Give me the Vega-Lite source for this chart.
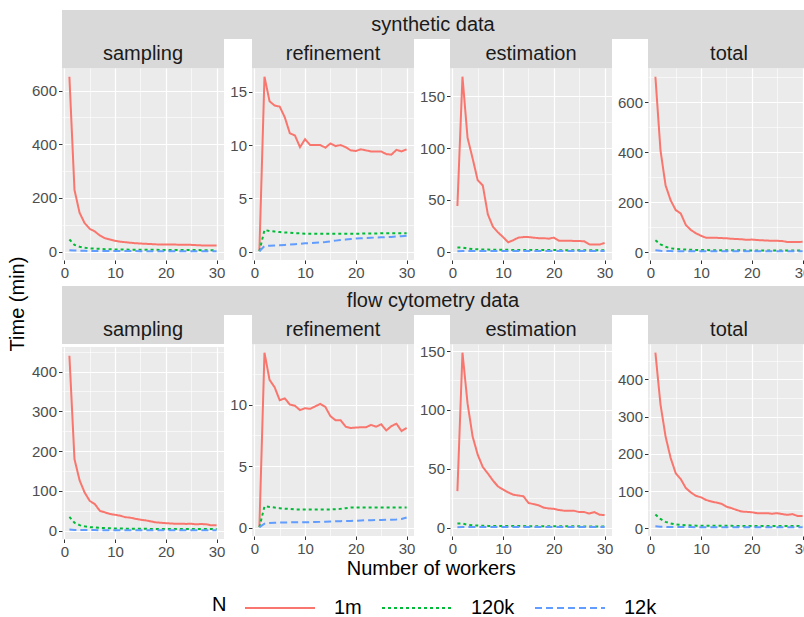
{
"$schema":"https://vega.github.io/schema/vega-lite/v6.json",
"padding":{"left":8,"top":10,"right":0,"bottom":0},
"title":{"text":"Time (min)","orient":"left","anchor":"middle","fontSize":20,"fontWeight":"normal","color":"#000000","offset":3,"dx":10},
"datasets":{
"ss":[
{"n":"1m","w":1,"t":652},{"n":"1m","w":2,"t":230},{"n":"1m","w":3,"t":145},{"n":"1m","w":4,"t":106},{"n":"1m","w":5,"t":85},{"n":"1m","w":6,"t":75},{"n":"1m","w":7,"t":60},{"n":"1m","w":8,"t":50},{"n":"1m","w":9,"t":45},{"n":"1m","w":10,"t":40},{"n":"1m","w":11,"t":37},{"n":"1m","w":12,"t":35},{"n":"1m","w":13,"t":33},{"n":"1m","w":14,"t":31},{"n":"1m","w":15,"t":30},{"n":"1m","w":16,"t":29},{"n":"1m","w":17,"t":28},{"n":"1m","w":18,"t":27},{"n":"1m","w":19,"t":26},{"n":"1m","w":20,"t":26},{"n":"1m","w":21,"t":26},{"n":"1m","w":22,"t":26},{"n":"1m","w":23,"t":25},{"n":"1m","w":24,"t":25},{"n":"1m","w":25,"t":25},{"n":"1m","w":26,"t":24},{"n":"1m","w":27,"t":23},{"n":"1m","w":28,"t":23},{"n":"1m","w":29,"t":23},{"n":"1m","w":30,"t":23},
{"n":"120k","w":1,"t":45},{"n":"120k","w":2,"t":25},{"n":"120k","w":3,"t":18},{"n":"120k","w":4,"t":14},{"n":"120k","w":5,"t":12},{"n":"120k","w":6,"t":11},{"n":"120k","w":7,"t":10},{"n":"120k","w":8,"t":9},{"n":"120k","w":9,"t":9},{"n":"120k","w":10,"t":8},{"n":"120k","w":11,"t":8},{"n":"120k","w":12,"t":8},{"n":"120k","w":13,"t":7},{"n":"120k","w":14,"t":7},{"n":"120k","w":15,"t":7},{"n":"120k","w":16,"t":7},{"n":"120k","w":17,"t":7},{"n":"120k","w":18,"t":7},{"n":"120k","w":19,"t":6},{"n":"120k","w":20,"t":6},{"n":"120k","w":21,"t":6},{"n":"120k","w":22,"t":6},{"n":"120k","w":23,"t":6},{"n":"120k","w":24,"t":6},{"n":"120k","w":25,"t":6},{"n":"120k","w":26,"t":6},{"n":"120k","w":27,"t":5},{"n":"120k","w":28,"t":5},{"n":"120k","w":29,"t":5},{"n":"120k","w":30,"t":5},
{"n":"12k","w":1,"t":5},{"n":"12k","w":2,"t":4},{"n":"12k","w":3,"t":3},{"n":"12k","w":4,"t":3},{"n":"12k","w":5,"t":2},{"n":"12k","w":6,"t":2},{"n":"12k","w":7,"t":2},{"n":"12k","w":8,"t":2},{"n":"12k","w":9,"t":2},{"n":"12k","w":10,"t":2},{"n":"12k","w":11,"t":2},{"n":"12k","w":12,"t":2},{"n":"12k","w":13,"t":2},{"n":"12k","w":14,"t":2},{"n":"12k","w":15,"t":1},{"n":"12k","w":16,"t":1},{"n":"12k","w":17,"t":1},{"n":"12k","w":18,"t":1},{"n":"12k","w":19,"t":1},{"n":"12k","w":20,"t":1},{"n":"12k","w":21,"t":1},{"n":"12k","w":22,"t":1},{"n":"12k","w":23,"t":1},{"n":"12k","w":24,"t":1},{"n":"12k","w":25,"t":1},{"n":"12k","w":26,"t":1},{"n":"12k","w":27,"t":1},{"n":"12k","w":28,"t":1},{"n":"12k","w":29,"t":1},{"n":"12k","w":30,"t":1}],
"sr":[
{"n":"1m","w":1,"t":0.1},{"n":"1m","w":2,"t":16.4},{"n":"1m","w":3,"t":14.1},{"n":"1m","w":4,"t":13.7},{"n":"1m","w":5,"t":13.6},{"n":"1m","w":6,"t":12.6},{"n":"1m","w":7,"t":11.1},{"n":"1m","w":8,"t":10.9},{"n":"1m","w":9,"t":9.8},{"n":"1m","w":10,"t":10.55},{"n":"1m","w":11,"t":10.0},{"n":"1m","w":12,"t":10.0},{"n":"1m","w":13,"t":10.0},{"n":"1m","w":14,"t":9.75},{"n":"1m","w":15,"t":10.15},{"n":"1m","w":16,"t":9.9},{"n":"1m","w":17,"t":10.0},{"n":"1m","w":18,"t":9.8},{"n":"1m","w":19,"t":9.5},{"n":"1m","w":20,"t":9.45},{"n":"1m","w":21,"t":9.6},{"n":"1m","w":22,"t":9.5},{"n":"1m","w":23,"t":9.4},{"n":"1m","w":24,"t":9.4},{"n":"1m","w":25,"t":9.4},{"n":"1m","w":26,"t":9.15},{"n":"1m","w":27,"t":9.1},{"n":"1m","w":28,"t":9.55},{"n":"1m","w":29,"t":9.4},{"n":"1m","w":30,"t":9.6},
{"n":"120k","w":1,"t":0.05},{"n":"120k","w":2,"t":2.05},{"n":"120k","w":3,"t":1.95},{"n":"120k","w":4,"t":1.9},{"n":"120k","w":5,"t":1.85},{"n":"120k","w":6,"t":1.8},{"n":"120k","w":7,"t":1.8},{"n":"120k","w":8,"t":1.75},{"n":"120k","w":9,"t":1.75},{"n":"120k","w":10,"t":1.7},{"n":"120k","w":11,"t":1.7},{"n":"120k","w":12,"t":1.7},{"n":"120k","w":13,"t":1.7},{"n":"120k","w":14,"t":1.7},{"n":"120k","w":15,"t":1.7},{"n":"120k","w":16,"t":1.7},{"n":"120k","w":17,"t":1.7},{"n":"120k","w":18,"t":1.7},{"n":"120k","w":19,"t":1.7},{"n":"120k","w":20,"t":1.7},{"n":"120k","w":21,"t":1.7},{"n":"120k","w":22,"t":1.72},{"n":"120k","w":23,"t":1.72},{"n":"120k","w":24,"t":1.72},{"n":"120k","w":25,"t":1.75},{"n":"120k","w":26,"t":1.75},{"n":"120k","w":27,"t":1.75},{"n":"120k","w":28,"t":1.75},{"n":"120k","w":29,"t":1.75},{"n":"120k","w":30,"t":1.75},
{"n":"12k","w":1,"t":0.05},{"n":"12k","w":2,"t":0.55},{"n":"12k","w":3,"t":0.58},{"n":"12k","w":4,"t":0.6},{"n":"12k","w":5,"t":0.62},{"n":"12k","w":6,"t":0.65},{"n":"12k","w":7,"t":0.68},{"n":"12k","w":8,"t":0.72},{"n":"12k","w":9,"t":0.76},{"n":"12k","w":10,"t":0.8},{"n":"12k","w":11,"t":0.82},{"n":"12k","w":12,"t":0.85},{"n":"12k","w":13,"t":0.88},{"n":"12k","w":14,"t":0.92},{"n":"12k","w":15,"t":0.98},{"n":"12k","w":16,"t":1.05},{"n":"12k","w":17,"t":1.1},{"n":"12k","w":18,"t":1.15},{"n":"12k","w":19,"t":1.2},{"n":"12k","w":20,"t":1.25},{"n":"12k","w":21,"t":1.27},{"n":"12k","w":22,"t":1.3},{"n":"12k","w":23,"t":1.32},{"n":"12k","w":24,"t":1.34},{"n":"12k","w":25,"t":1.36},{"n":"12k","w":26,"t":1.38},{"n":"12k","w":27,"t":1.4},{"n":"12k","w":28,"t":1.43},{"n":"12k","w":29,"t":1.46},{"n":"12k","w":30,"t":1.5}],
"se":[
{"n":"1m","w":1,"t":44},{"n":"1m","w":2,"t":169},{"n":"1m","w":3,"t":110},{"n":"1m","w":4,"t":90},{"n":"1m","w":5,"t":69},{"n":"1m","w":6,"t":64},{"n":"1m","w":7,"t":36},{"n":"1m","w":8,"t":24},{"n":"1m","w":9,"t":18.6},{"n":"1m","w":10,"t":14},{"n":"1m","w":11,"t":9},{"n":"1m","w":12,"t":11},{"n":"1m","w":13,"t":13.5},{"n":"1m","w":14,"t":14},{"n":"1m","w":15,"t":14},{"n":"1m","w":16,"t":13.5},{"n":"1m","w":17,"t":13},{"n":"1m","w":18,"t":13},{"n":"1m","w":19,"t":12.5},{"n":"1m","w":20,"t":13.5},{"n":"1m","w":21,"t":10.5},{"n":"1m","w":22,"t":10.5},{"n":"1m","w":23,"t":10.5},{"n":"1m","w":24,"t":10.3},{"n":"1m","w":25,"t":10.2},{"n":"1m","w":26,"t":10},{"n":"1m","w":27,"t":7},{"n":"1m","w":28,"t":6.8},{"n":"1m","w":29,"t":6.8},{"n":"1m","w":30,"t":8.3},
{"n":"120k","w":1,"t":4},{"n":"120k","w":2,"t":4},{"n":"120k","w":3,"t":3},{"n":"120k","w":4,"t":2.5},{"n":"120k","w":5,"t":2.3},{"n":"120k","w":6,"t":2},{"n":"120k","w":7,"t":2},{"n":"120k","w":8,"t":1.8},{"n":"120k","w":9,"t":1.8},{"n":"120k","w":10,"t":1.7},{"n":"120k","w":11,"t":1.7},{"n":"120k","w":12,"t":1.6},{"n":"120k","w":13,"t":1.6},{"n":"120k","w":14,"t":1.6},{"n":"120k","w":15,"t":1.5},{"n":"120k","w":16,"t":1.5},{"n":"120k","w":17,"t":1.5},{"n":"120k","w":18,"t":1.5},{"n":"120k","w":19,"t":1.5},{"n":"120k","w":20,"t":1.5},{"n":"120k","w":21,"t":1.4},{"n":"120k","w":22,"t":1.4},{"n":"120k","w":23,"t":1.4},{"n":"120k","w":24,"t":1.4},{"n":"120k","w":25,"t":1.4},{"n":"120k","w":26,"t":1.3},{"n":"120k","w":27,"t":1.3},{"n":"120k","w":28,"t":1.3},{"n":"120k","w":29,"t":1.3},{"n":"120k","w":30,"t":1.3},
{"n":"12k","w":1,"t":0.3},{"n":"12k","w":2,"t":0.5},{"n":"12k","w":3,"t":0.5},{"n":"12k","w":4,"t":0.5},{"n":"12k","w":5,"t":0.5},{"n":"12k","w":6,"t":0.5},{"n":"12k","w":7,"t":0.5},{"n":"12k","w":8,"t":0.5},{"n":"12k","w":9,"t":0.5},{"n":"12k","w":10,"t":0.5},{"n":"12k","w":11,"t":0.5},{"n":"12k","w":12,"t":0.5},{"n":"12k","w":13,"t":0.5},{"n":"12k","w":14,"t":0.5},{"n":"12k","w":15,"t":0.5},{"n":"12k","w":16,"t":0.5},{"n":"12k","w":17,"t":0.5},{"n":"12k","w":18,"t":0.5},{"n":"12k","w":19,"t":0.5},{"n":"12k","w":20,"t":0.5},{"n":"12k","w":21,"t":0.5},{"n":"12k","w":22,"t":0.5},{"n":"12k","w":23,"t":0.5},{"n":"12k","w":24,"t":0.5},{"n":"12k","w":25,"t":0.5},{"n":"12k","w":26,"t":0.5},{"n":"12k","w":27,"t":0.5},{"n":"12k","w":28,"t":0.5},{"n":"12k","w":29,"t":0.5},{"n":"12k","w":30,"t":0.5}],
"st":[
{"n":"1m","w":1,"t":702},{"n":"1m","w":2,"t":408},{"n":"1m","w":3,"t":268},{"n":"1m","w":4,"t":208},{"n":"1m","w":5,"t":169},{"n":"1m","w":6,"t":155},{"n":"1m","w":7,"t":109},{"n":"1m","w":8,"t":89},{"n":"1m","w":9,"t":76},{"n":"1m","w":10,"t":66},{"n":"1m","w":11,"t":58},{"n":"1m","w":12,"t":58},{"n":"1m","w":13,"t":58},{"n":"1m","w":14,"t":57},{"n":"1m","w":15,"t":56},{"n":"1m","w":16,"t":54},{"n":"1m","w":17,"t":53},{"n":"1m","w":18,"t":52},{"n":"1m","w":19,"t":50},{"n":"1m","w":20,"t":51},{"n":"1m","w":21,"t":49},{"n":"1m","w":22,"t":48},{"n":"1m","w":23,"t":47},{"n":"1m","w":24,"t":46},{"n":"1m","w":25,"t":46},{"n":"1m","w":26,"t":45},{"n":"1m","w":27,"t":41},{"n":"1m","w":28,"t":41},{"n":"1m","w":29,"t":41},{"n":"1m","w":30,"t":42},
{"n":"120k","w":1,"t":48},{"n":"120k","w":2,"t":32},{"n":"120k","w":3,"t":22},{"n":"120k","w":4,"t":16},{"n":"120k","w":5,"t":13},{"n":"120k","w":6,"t":12},{"n":"120k","w":7,"t":11},{"n":"120k","w":8,"t":10},{"n":"120k","w":9,"t":9.5},{"n":"120k","w":10,"t":9},{"n":"120k","w":11,"t":9},{"n":"120k","w":12,"t":8.5},{"n":"120k","w":13,"t":8.5},{"n":"120k","w":14,"t":8},{"n":"120k","w":15,"t":8},{"n":"120k","w":16,"t":8},{"n":"120k","w":17,"t":8},{"n":"120k","w":18,"t":8},{"n":"120k","w":19,"t":7.5},{"n":"120k","w":20,"t":7.5},{"n":"120k","w":21,"t":7.5},{"n":"120k","w":22,"t":7.5},{"n":"120k","w":23,"t":7.5},{"n":"120k","w":24,"t":7},{"n":"120k","w":25,"t":7},{"n":"120k","w":26,"t":7},{"n":"120k","w":27,"t":7},{"n":"120k","w":28,"t":7},{"n":"120k","w":29,"t":7},{"n":"120k","w":30,"t":7},
{"n":"12k","w":1,"t":8},{"n":"12k","w":2,"t":6},{"n":"12k","w":3,"t":5},{"n":"12k","w":4,"t":5},{"n":"12k","w":5,"t":4},{"n":"12k","w":6,"t":4},{"n":"12k","w":7,"t":4},{"n":"12k","w":8,"t":4},{"n":"12k","w":9,"t":4},{"n":"12k","w":10,"t":4},{"n":"12k","w":11,"t":4},{"n":"12k","w":12,"t":4},{"n":"12k","w":13,"t":4},{"n":"12k","w":14,"t":4},{"n":"12k","w":15,"t":4},{"n":"12k","w":16,"t":4},{"n":"12k","w":17,"t":4},{"n":"12k","w":18,"t":4},{"n":"12k","w":19,"t":4},{"n":"12k","w":20,"t":4},{"n":"12k","w":21,"t":4},{"n":"12k","w":22,"t":4},{"n":"12k","w":23,"t":4},{"n":"12k","w":24,"t":4},{"n":"12k","w":25,"t":4},{"n":"12k","w":26,"t":4},{"n":"12k","w":27,"t":4},{"n":"12k","w":28,"t":4},{"n":"12k","w":29,"t":4},{"n":"12k","w":30,"t":4}],
"fs":[
{"n":"1m","w":1,"t":440},{"n":"1m","w":2,"t":180},{"n":"1m","w":3,"t":127},{"n":"1m","w":4,"t":96},{"n":"1m","w":5,"t":75},{"n":"1m","w":6,"t":67},{"n":"1m","w":7,"t":50},{"n":"1m","w":8,"t":46},{"n":"1m","w":9,"t":42},{"n":"1m","w":10,"t":40},{"n":"1m","w":11,"t":37.7},{"n":"1m","w":12,"t":34},{"n":"1m","w":13,"t":32.7},{"n":"1m","w":14,"t":30},{"n":"1m","w":15,"t":27.7},{"n":"1m","w":16,"t":26},{"n":"1m","w":17,"t":23.5},{"n":"1m","w":18,"t":21},{"n":"1m","w":19,"t":20},{"n":"1m","w":20,"t":19},{"n":"1m","w":21,"t":18},{"n":"1m","w":22,"t":17.6},{"n":"1m","w":23,"t":17.6},{"n":"1m","w":24,"t":17},{"n":"1m","w":25,"t":17.6},{"n":"1m","w":26,"t":16},{"n":"1m","w":27,"t":16.8},{"n":"1m","w":28,"t":16},{"n":"1m","w":29,"t":13.4},{"n":"1m","w":30,"t":13.4},
{"n":"120k","w":1,"t":35},{"n":"120k","w":2,"t":20},{"n":"120k","w":3,"t":14},{"n":"120k","w":4,"t":11},{"n":"120k","w":5,"t":9},{"n":"120k","w":6,"t":8},{"n":"120k","w":7,"t":7},{"n":"120k","w":8,"t":6.5},{"n":"120k","w":9,"t":6},{"n":"120k","w":10,"t":5.5},{"n":"120k","w":11,"t":5.5},{"n":"120k","w":12,"t":5},{"n":"120k","w":13,"t":5},{"n":"120k","w":14,"t":5},{"n":"120k","w":15,"t":5},{"n":"120k","w":16,"t":5},{"n":"120k","w":17,"t":4.5},{"n":"120k","w":18,"t":4.5},{"n":"120k","w":19,"t":4.5},{"n":"120k","w":20,"t":4.5},{"n":"120k","w":21,"t":4.5},{"n":"120k","w":22,"t":4.5},{"n":"120k","w":23,"t":4.5},{"n":"120k","w":24,"t":4},{"n":"120k","w":25,"t":4},{"n":"120k","w":26,"t":4},{"n":"120k","w":27,"t":4},{"n":"120k","w":28,"t":4},{"n":"120k","w":29,"t":4},{"n":"120k","w":30,"t":4},
{"n":"12k","w":1,"t":3},{"n":"12k","w":2,"t":2},{"n":"12k","w":3,"t":2},{"n":"12k","w":4,"t":2},{"n":"12k","w":5,"t":1.5},{"n":"12k","w":6,"t":1.5},{"n":"12k","w":7,"t":1},{"n":"12k","w":8,"t":1},{"n":"12k","w":9,"t":1},{"n":"12k","w":10,"t":1},{"n":"12k","w":11,"t":1},{"n":"12k","w":12,"t":1},{"n":"12k","w":13,"t":1},{"n":"12k","w":14,"t":1},{"n":"12k","w":15,"t":1},{"n":"12k","w":16,"t":1},{"n":"12k","w":17,"t":1},{"n":"12k","w":18,"t":1},{"n":"12k","w":19,"t":1},{"n":"12k","w":20,"t":1},{"n":"12k","w":21,"t":1},{"n":"12k","w":22,"t":1},{"n":"12k","w":23,"t":1},{"n":"12k","w":24,"t":1},{"n":"12k","w":25,"t":1},{"n":"12k","w":26,"t":1},{"n":"12k","w":27,"t":1},{"n":"12k","w":28,"t":1},{"n":"12k","w":29,"t":1},{"n":"12k","w":30,"t":1}],
"fr":[
{"n":"1m","w":1,"t":0.1},{"n":"1m","w":2,"t":14.2},{"n":"1m","w":3,"t":12.0},{"n":"1m","w":4,"t":11.4},{"n":"1m","w":5,"t":10.35},{"n":"1m","w":6,"t":10.5},{"n":"1m","w":7,"t":10.0},{"n":"1m","w":8,"t":9.9},{"n":"1m","w":9,"t":9.55},{"n":"1m","w":10,"t":9.7},{"n":"1m","w":11,"t":9.65},{"n":"1m","w":12,"t":9.85},{"n":"1m","w":13,"t":10.05},{"n":"1m","w":14,"t":9.8},{"n":"1m","w":15,"t":9.05},{"n":"1m","w":16,"t":8.73},{"n":"1m","w":17,"t":8.73},{"n":"1m","w":18,"t":8.2},{"n":"1m","w":19,"t":8.1},{"n":"1m","w":20,"t":8.13},{"n":"1m","w":21,"t":8.16},{"n":"1m","w":22,"t":8.16},{"n":"1m","w":23,"t":8.35},{"n":"1m","w":24,"t":8.2},{"n":"1m","w":25,"t":8.4},{"n":"1m","w":26,"t":7.9},{"n":"1m","w":27,"t":8.25},{"n":"1m","w":28,"t":8.45},{"n":"1m","w":29,"t":7.85},{"n":"1m","w":30,"t":8.1},
{"n":"120k","w":1,"t":0.05},{"n":"120k","w":2,"t":1.75},{"n":"120k","w":3,"t":1.7},{"n":"120k","w":4,"t":1.65},{"n":"120k","w":5,"t":1.6},{"n":"120k","w":6,"t":1.55},{"n":"120k","w":7,"t":1.55},{"n":"120k","w":8,"t":1.5},{"n":"120k","w":9,"t":1.5},{"n":"120k","w":10,"t":1.5},{"n":"120k","w":11,"t":1.5},{"n":"120k","w":12,"t":1.5},{"n":"120k","w":13,"t":1.5},{"n":"120k","w":14,"t":1.5},{"n":"120k","w":15,"t":1.5},{"n":"120k","w":16,"t":1.52},{"n":"120k","w":17,"t":1.55},{"n":"120k","w":18,"t":1.6},{"n":"120k","w":19,"t":1.65},{"n":"120k","w":20,"t":1.65},{"n":"120k","w":21,"t":1.65},{"n":"120k","w":22,"t":1.65},{"n":"120k","w":23,"t":1.65},{"n":"120k","w":24,"t":1.65},{"n":"120k","w":25,"t":1.65},{"n":"120k","w":26,"t":1.65},{"n":"120k","w":27,"t":1.65},{"n":"120k","w":28,"t":1.65},{"n":"120k","w":29,"t":1.65},{"n":"120k","w":30,"t":1.65},
{"n":"12k","w":1,"t":0.05},{"n":"12k","w":2,"t":0.35},{"n":"12k","w":3,"t":0.4},{"n":"12k","w":4,"t":0.42},{"n":"12k","w":5,"t":0.43},{"n":"12k","w":6,"t":0.44},{"n":"12k","w":7,"t":0.45},{"n":"12k","w":8,"t":0.45},{"n":"12k","w":9,"t":0.45},{"n":"12k","w":10,"t":0.46},{"n":"12k","w":11,"t":0.47},{"n":"12k","w":12,"t":0.48},{"n":"12k","w":13,"t":0.49},{"n":"12k","w":14,"t":0.5},{"n":"12k","w":15,"t":0.52},{"n":"12k","w":16,"t":0.54},{"n":"12k","w":17,"t":0.55},{"n":"12k","w":18,"t":0.56},{"n":"12k","w":19,"t":0.57},{"n":"12k","w":20,"t":0.58},{"n":"12k","w":21,"t":0.6},{"n":"12k","w":22,"t":0.62},{"n":"12k","w":23,"t":0.63},{"n":"12k","w":24,"t":0.64},{"n":"12k","w":25,"t":0.65},{"n":"12k","w":26,"t":0.66},{"n":"12k","w":27,"t":0.67},{"n":"12k","w":28,"t":0.69},{"n":"12k","w":29,"t":0.72},{"n":"12k","w":30,"t":0.85}],
"fe":[
{"n":"1m","w":1,"t":31},{"n":"1m","w":2,"t":148.6},{"n":"1m","w":3,"t":105.5},{"n":"1m","w":4,"t":77.4},{"n":"1m","w":5,"t":62},{"n":"1m","w":6,"t":51.5},{"n":"1m","w":7,"t":46},{"n":"1m","w":8,"t":40},{"n":"1m","w":9,"t":35},{"n":"1m","w":10,"t":32.4},{"n":"1m","w":11,"t":30},{"n":"1m","w":12,"t":28},{"n":"1m","w":13,"t":27.3},{"n":"1m","w":14,"t":26.7},{"n":"1m","w":15,"t":21},{"n":"1m","w":16,"t":20},{"n":"1m","w":17,"t":19},{"n":"1m","w":18,"t":17},{"n":"1m","w":19,"t":16.3},{"n":"1m","w":20,"t":16},{"n":"1m","w":21,"t":15},{"n":"1m","w":22,"t":14.4},{"n":"1m","w":23,"t":14.4},{"n":"1m","w":24,"t":14.3},{"n":"1m","w":25,"t":13.2},{"n":"1m","w":26,"t":13.2},{"n":"1m","w":27,"t":12},{"n":"1m","w":28,"t":13.2},{"n":"1m","w":29,"t":11},{"n":"1m","w":30,"t":10.7},
{"n":"120k","w":1,"t":3.5},{"n":"120k","w":2,"t":3.5},{"n":"120k","w":3,"t":2.5},{"n":"120k","w":4,"t":2},{"n":"120k","w":5,"t":1.8},{"n":"120k","w":6,"t":1.6},{"n":"120k","w":7,"t":1.5},{"n":"120k","w":8,"t":1.5},{"n":"120k","w":9,"t":1.4},{"n":"120k","w":10,"t":1.4},{"n":"120k","w":11,"t":1.3},{"n":"120k","w":12,"t":1.3},{"n":"120k","w":13,"t":1.3},{"n":"120k","w":14,"t":1.3},{"n":"120k","w":15,"t":1.2},{"n":"120k","w":16,"t":1.2},{"n":"120k","w":17,"t":1.2},{"n":"120k","w":18,"t":1.2},{"n":"120k","w":19,"t":1.2},{"n":"120k","w":20,"t":1.2},{"n":"120k","w":21,"t":1.1},{"n":"120k","w":22,"t":1.1},{"n":"120k","w":23,"t":1.1},{"n":"120k","w":24,"t":1.1},{"n":"120k","w":25,"t":1.1},{"n":"120k","w":26,"t":1},{"n":"120k","w":27,"t":1},{"n":"120k","w":28,"t":1},{"n":"120k","w":29,"t":1},{"n":"120k","w":30,"t":1},
{"n":"12k","w":1,"t":0.3},{"n":"12k","w":2,"t":0.5},{"n":"12k","w":3,"t":0.5},{"n":"12k","w":4,"t":0.5},{"n":"12k","w":5,"t":0.5},{"n":"12k","w":6,"t":0.5},{"n":"12k","w":7,"t":0.5},{"n":"12k","w":8,"t":0.5},{"n":"12k","w":9,"t":0.5},{"n":"12k","w":10,"t":0.5},{"n":"12k","w":11,"t":0.5},{"n":"12k","w":12,"t":0.5},{"n":"12k","w":13,"t":0.5},{"n":"12k","w":14,"t":0.5},{"n":"12k","w":15,"t":0.5},{"n":"12k","w":16,"t":0.5},{"n":"12k","w":17,"t":0.5},{"n":"12k","w":18,"t":0.5},{"n":"12k","w":19,"t":0.5},{"n":"12k","w":20,"t":0.5},{"n":"12k","w":21,"t":0.5},{"n":"12k","w":22,"t":0.5},{"n":"12k","w":23,"t":0.5},{"n":"12k","w":24,"t":0.5},{"n":"12k","w":25,"t":0.5},{"n":"12k","w":26,"t":0.5},{"n":"12k","w":27,"t":0.5},{"n":"12k","w":28,"t":0.5},{"n":"12k","w":29,"t":0.5},{"n":"12k","w":30,"t":0.5}],
"ft":[
{"n":"1m","w":1,"t":472},{"n":"1m","w":2,"t":333},{"n":"1m","w":3,"t":247},{"n":"1m","w":4,"t":189},{"n":"1m","w":5,"t":148},{"n":"1m","w":6,"t":132},{"n":"1m","w":7,"t":108},{"n":"1m","w":8,"t":96},{"n":"1m","w":9,"t":87},{"n":"1m","w":10,"t":83},{"n":"1m","w":11,"t":76},{"n":"1m","w":12,"t":72},{"n":"1m","w":13,"t":69},{"n":"1m","w":14,"t":66},{"n":"1m","w":15,"t":58},{"n":"1m","w":16,"t":54},{"n":"1m","w":17,"t":49},{"n":"1m","w":18,"t":45},{"n":"1m","w":19,"t":44},{"n":"1m","w":20,"t":43},{"n":"1m","w":21,"t":40.5},{"n":"1m","w":22,"t":40},{"n":"1m","w":23,"t":40.5},{"n":"1m","w":24,"t":39},{"n":"1m","w":25,"t":40.5},{"n":"1m","w":26,"t":38},{"n":"1m","w":27,"t":36},{"n":"1m","w":28,"t":38},{"n":"1m","w":29,"t":33},{"n":"1m","w":30,"t":33},
{"n":"120k","w":1,"t":37},{"n":"120k","w":2,"t":25},{"n":"120k","w":3,"t":17},{"n":"120k","w":4,"t":13},{"n":"120k","w":5,"t":10},{"n":"120k","w":6,"t":9},{"n":"120k","w":7,"t":8},{"n":"120k","w":8,"t":7.5},{"n":"120k","w":9,"t":7},{"n":"120k","w":10,"t":7},{"n":"120k","w":11,"t":7},{"n":"120k","w":12,"t":6.5},{"n":"120k","w":13,"t":6.5},{"n":"120k","w":14,"t":6.5},{"n":"120k","w":15,"t":6.5},{"n":"120k","w":16,"t":6.5},{"n":"120k","w":17,"t":6},{"n":"120k","w":18,"t":6},{"n":"120k","w":19,"t":6},{"n":"120k","w":20,"t":6},{"n":"120k","w":21,"t":6},{"n":"120k","w":22,"t":6},{"n":"120k","w":23,"t":6},{"n":"120k","w":24,"t":6},{"n":"120k","w":25,"t":6},{"n":"120k","w":26,"t":6},{"n":"120k","w":27,"t":6},{"n":"120k","w":28,"t":6},{"n":"120k","w":29,"t":6},{"n":"120k","w":30,"t":6},
{"n":"12k","w":1,"t":5},{"n":"12k","w":2,"t":4},{"n":"12k","w":3,"t":3.5},{"n":"12k","w":4,"t":3},{"n":"12k","w":5,"t":3},{"n":"12k","w":6,"t":3},{"n":"12k","w":7,"t":3},{"n":"12k","w":8,"t":3},{"n":"12k","w":9,"t":2.5},{"n":"12k","w":10,"t":2.5},{"n":"12k","w":11,"t":2.5},{"n":"12k","w":12,"t":2.5},{"n":"12k","w":13,"t":2.5},{"n":"12k","w":14,"t":2.5},{"n":"12k","w":15,"t":2.5},{"n":"12k","w":16,"t":2.5},{"n":"12k","w":17,"t":2.5},{"n":"12k","w":18,"t":2.5},{"n":"12k","w":19,"t":2.5},{"n":"12k","w":20,"t":2.5},{"n":"12k","w":21,"t":2.5},{"n":"12k","w":22,"t":2.5},{"n":"12k","w":23,"t":2.5},{"n":"12k","w":24,"t":2.5},{"n":"12k","w":25,"t":2.5},{"n":"12k","w":26,"t":2.5},{"n":"12k","w":27,"t":2.5},{"n":"12k","w":28,"t":2.5},{"n":"12k","w":29,"t":2.5},{"n":"12k","w":30,"t":2.5}]
},
"vconcat":[
{"spacing":0,"vconcat":[
 {"width":742,"height":29,"view":{"fill":"#D9D9D9","stroke":null},"data":{"values":[{"l":"synthetic data"}]},"mark":{"type":"text","fontSize":20,"color":"#1A1A1A","baseline":"middle"},"encoding":{"text":{"field":"l","type":"nominal"}}},
 {"spacing":4,"hconcat":[
  {"spacing":0,"vconcat":[
   {"width":162,"height":29,"view":{"fill":"#D9D9D9","stroke":null},"data":{"values":[{"l":"sampling"}]},"mark":{"type":"text","fontSize":20,"color":"#1A1A1A","baseline":"middle"},"encoding":{"text":{"field":"l","type":"nominal"}}},
   {"width":162,"height":192,"data":{"name":"ss"},"mark":{"type":"line","strokeWidth":2},"encoding":{
    "x":{"field":"w","type":"quantitative","title":null,"scale":{"zero":false,"nice":false,"padding":7.4},"axis":{"values":[0,5,10,15,20,25,30],"labelExpr":"datum.value % 10 === 0 ? datum.label : ''","gridWidth":{"condition":{"test":"datum.value % 10 === 0","value":1.2},"value":0.6},"tickSize":{"condition":{"test":"datum.value % 10 === 0","value":3.5},"value":0}}},
    "y":{"field":"t","type":"quantitative","title":null,"scale":{"zero":false,"nice":false,"padding":8.7},"axis":{"values":[0,100,200,300,400,500,600],"labelExpr":"datum.value % 200 === 0 ? datum.label : ''","gridWidth":{"condition":{"test":"datum.value % 200 === 0","value":1.2},"value":0.6},"tickSize":{"condition":{"test":"datum.value % 200 === 0","value":3.5},"value":0}}},
    "color":{"field":"n","type":"nominal","title":"N","scale":{"domain":["1m","120k","12k"],"range":["#F8766D","#00BA38","#619CFF"]}},
    "strokeDash":{"field":"n","type":"nominal","title":"N","scale":{"domain":["1m","120k","12k"],"range":[[1,0],[3,3],[7,4]]}}}}]},
  {"spacing":0,"vconcat":[
   {"width":162,"height":29,"view":{"fill":"#D9D9D9","stroke":null},"data":{"values":[{"l":"refinement"}]},"mark":{"type":"text","fontSize":20,"color":"#1A1A1A","baseline":"middle"},"encoding":{"text":{"field":"l","type":"nominal"}}},
   {"width":162,"height":192,"data":{"name":"sr"},"mark":{"type":"line","strokeWidth":2},"encoding":{
    "x":{"field":"w","type":"quantitative","title":null,"scale":{"zero":false,"nice":false,"padding":7.4},"axis":{"values":[0,5,10,15,20,25,30],"labelExpr":"datum.value % 10 === 0 ? datum.label : ''","gridWidth":{"condition":{"test":"datum.value % 10 === 0","value":1.2},"value":0.6},"tickSize":{"condition":{"test":"datum.value % 10 === 0","value":3.5},"value":0}}},
    "y":{"field":"t","type":"quantitative","title":null,"scale":{"zero":false,"nice":false,"padding":8.7},"axis":{"values":[0,2.5,5,7.5,10,12.5,15],"labelExpr":"datum.value % 5 === 0 ? datum.label : ''","gridWidth":{"condition":{"test":"datum.value % 5 === 0","value":1.2},"value":0.6},"tickSize":{"condition":{"test":"datum.value % 5 === 0","value":3.5},"value":0}}},
    "color":{"field":"n","type":"nominal","title":"N","scale":{"domain":["1m","120k","12k"],"range":["#F8766D","#00BA38","#619CFF"]}},
    "strokeDash":{"field":"n","type":"nominal","title":"N","scale":{"domain":["1m","120k","12k"],"range":[[1,0],[3,3],[7,4]]}}}}]},
  {"spacing":0,"vconcat":[
   {"width":162,"height":29,"view":{"fill":"#D9D9D9","stroke":null},"data":{"values":[{"l":"estimation"}]},"mark":{"type":"text","fontSize":20,"color":"#1A1A1A","baseline":"middle"},"encoding":{"text":{"field":"l","type":"nominal"}}},
   {"width":162,"height":192,"data":{"name":"se"},"mark":{"type":"line","strokeWidth":2},"encoding":{
    "x":{"field":"w","type":"quantitative","title":null,"scale":{"zero":false,"nice":false,"padding":7.4},"axis":{"values":[0,5,10,15,20,25,30],"labelExpr":"datum.value % 10 === 0 ? datum.label : ''","gridWidth":{"condition":{"test":"datum.value % 10 === 0","value":1.2},"value":0.6},"tickSize":{"condition":{"test":"datum.value % 10 === 0","value":3.5},"value":0}}},
    "y":{"field":"t","type":"quantitative","title":null,"scale":{"zero":false,"nice":false,"padding":8.7},"axis":{"values":[0,25,50,75,100,125,150],"labelExpr":"datum.value % 50 === 0 ? datum.label : ''","gridWidth":{"condition":{"test":"datum.value % 50 === 0","value":1.2},"value":0.6},"tickSize":{"condition":{"test":"datum.value % 50 === 0","value":3.5},"value":0}}},
    "color":{"field":"n","type":"nominal","title":"N","scale":{"domain":["1m","120k","12k"],"range":["#F8766D","#00BA38","#619CFF"]}},
    "strokeDash":{"field":"n","type":"nominal","title":"N","scale":{"domain":["1m","120k","12k"],"range":[[1,0],[3,3],[7,4]]}}}}]},
  {"spacing":0,"vconcat":[
   {"width":162,"height":29,"view":{"fill":"#D9D9D9","stroke":null},"data":{"values":[{"l":"total"}]},"mark":{"type":"text","fontSize":20,"color":"#1A1A1A","baseline":"middle"},"encoding":{"text":{"field":"l","type":"nominal"}}},
   {"width":162,"height":192,"data":{"name":"st"},"mark":{"type":"line","strokeWidth":2},"encoding":{
    "x":{"field":"w","type":"quantitative","title":null,"scale":{"zero":false,"nice":false,"padding":7.4},"axis":{"values":[0,5,10,15,20,25,30],"labelExpr":"datum.value % 10 === 0 ? datum.label : ''","gridWidth":{"condition":{"test":"datum.value % 10 === 0","value":1.2},"value":0.6},"tickSize":{"condition":{"test":"datum.value % 10 === 0","value":3.5},"value":0}}},
    "y":{"field":"t","type":"quantitative","title":null,"scale":{"zero":false,"nice":false,"padding":8.7},"axis":{"values":[0,100,200,300,400,500,600,700],"labelExpr":"datum.value % 200 === 0 ? datum.label : ''","gridWidth":{"condition":{"test":"datum.value % 200 === 0","value":1.2},"value":0.6},"tickSize":{"condition":{"test":"datum.value % 200 === 0","value":3.5},"value":0}}},
    "color":{"field":"n","type":"nominal","title":"N","scale":{"domain":["1m","120k","12k"],"range":["#F8766D","#00BA38","#619CFF"]}},
    "strokeDash":{"field":"n","type":"nominal","title":"N","scale":{"domain":["1m","120k","12k"],"range":[[1,0],[3,3],[7,4]]}}}}]}
 ]}
]},
{"spacing":0,"title":{"text":"Number of workers","orient":"bottom","anchor":"middle","fontSize":20,"fontWeight":"normal","color":"#000000","offset":-1,"dx":10},"vconcat":[
 {"width":742,"height":29,"view":{"fill":"#D9D9D9","stroke":null},"data":{"values":[{"l":"flow cytometry data"}]},"mark":{"type":"text","fontSize":20,"color":"#1A1A1A","baseline":"middle"},"encoding":{"text":{"field":"l","type":"nominal"}}},
 {"spacing":4,"hconcat":[
  {"spacing":0,"vconcat":[
   {"width":162,"height":29,"view":{"fill":"#D9D9D9","stroke":null},"data":{"values":[{"l":"sampling"}]},"mark":{"type":"text","fontSize":20,"color":"#1A1A1A","baseline":"middle"},"encoding":{"text":{"field":"l","type":"nominal"}}},
   {"width":162,"height":192,"data":{"name":"fs"},"mark":{"type":"line","strokeWidth":2},"encoding":{
    "x":{"field":"w","type":"quantitative","title":null,"scale":{"zero":false,"nice":false,"padding":7.4},"axis":{"values":[0,5,10,15,20,25,30],"labelExpr":"datum.value % 10 === 0 ? datum.label : ''","gridWidth":{"condition":{"test":"datum.value % 10 === 0","value":1.2},"value":0.6},"tickSize":{"condition":{"test":"datum.value % 10 === 0","value":3.5},"value":0}}},
    "y":{"field":"t","type":"quantitative","title":null,"scale":{"zero":false,"nice":false,"padding":8.7},"axis":{"values":[0,50,100,150,200,250,300,350,400,450],"labelExpr":"datum.value % 100 === 0 ? datum.label : ''","gridWidth":{"condition":{"test":"datum.value % 100 === 0","value":1.2},"value":0.6},"tickSize":{"condition":{"test":"datum.value % 100 === 0","value":3.5},"value":0}}},
    "color":{"field":"n","type":"nominal","title":"N","scale":{"domain":["1m","120k","12k"],"range":["#F8766D","#00BA38","#619CFF"]}},
    "strokeDash":{"field":"n","type":"nominal","title":"N","scale":{"domain":["1m","120k","12k"],"range":[[1,0],[3,3],[7,4]]}}}}]},
  {"spacing":0,"vconcat":[
   {"width":162,"height":29,"view":{"fill":"#D9D9D9","stroke":null},"data":{"values":[{"l":"refinement"}]},"mark":{"type":"text","fontSize":20,"color":"#1A1A1A","baseline":"middle"},"encoding":{"text":{"field":"l","type":"nominal"}}},
   {"width":162,"height":192,"data":{"name":"fr"},"mark":{"type":"line","strokeWidth":2},"encoding":{
    "x":{"field":"w","type":"quantitative","title":null,"scale":{"zero":false,"nice":false,"padding":7.4},"axis":{"values":[0,5,10,15,20,25,30],"labelExpr":"datum.value % 10 === 0 ? datum.label : ''","gridWidth":{"condition":{"test":"datum.value % 10 === 0","value":1.2},"value":0.6},"tickSize":{"condition":{"test":"datum.value % 10 === 0","value":3.5},"value":0}}},
    "y":{"field":"t","type":"quantitative","title":null,"scale":{"zero":false,"nice":false,"padding":8.7},"axis":{"values":[0,2.5,5,7.5,10,12.5],"labelExpr":"datum.value % 5 === 0 ? datum.label : ''","gridWidth":{"condition":{"test":"datum.value % 5 === 0","value":1.2},"value":0.6},"tickSize":{"condition":{"test":"datum.value % 5 === 0","value":3.5},"value":0}}},
    "color":{"field":"n","type":"nominal","title":"N","scale":{"domain":["1m","120k","12k"],"range":["#F8766D","#00BA38","#619CFF"]}},
    "strokeDash":{"field":"n","type":"nominal","title":"N","scale":{"domain":["1m","120k","12k"],"range":[[1,0],[3,3],[7,4]]}}}}]},
  {"spacing":0,"vconcat":[
   {"width":162,"height":29,"view":{"fill":"#D9D9D9","stroke":null},"data":{"values":[{"l":"estimation"}]},"mark":{"type":"text","fontSize":20,"color":"#1A1A1A","baseline":"middle"},"encoding":{"text":{"field":"l","type":"nominal"}}},
   {"width":162,"height":192,"data":{"name":"fe"},"mark":{"type":"line","strokeWidth":2},"encoding":{
    "x":{"field":"w","type":"quantitative","title":null,"scale":{"zero":false,"nice":false,"padding":7.4},"axis":{"values":[0,5,10,15,20,25,30],"labelExpr":"datum.value % 10 === 0 ? datum.label : ''","gridWidth":{"condition":{"test":"datum.value % 10 === 0","value":1.2},"value":0.6},"tickSize":{"condition":{"test":"datum.value % 10 === 0","value":3.5},"value":0}}},
    "y":{"field":"t","type":"quantitative","title":null,"scale":{"zero":false,"nice":false,"padding":8.7},"axis":{"values":[0,25,50,75,100,125,150],"labelExpr":"datum.value % 50 === 0 ? datum.label : ''","gridWidth":{"condition":{"test":"datum.value % 50 === 0","value":1.2},"value":0.6},"tickSize":{"condition":{"test":"datum.value % 50 === 0","value":3.5},"value":0}}},
    "color":{"field":"n","type":"nominal","title":"N","scale":{"domain":["1m","120k","12k"],"range":["#F8766D","#00BA38","#619CFF"]}},
    "strokeDash":{"field":"n","type":"nominal","title":"N","scale":{"domain":["1m","120k","12k"],"range":[[1,0],[3,3],[7,4]]}}}}]},
  {"spacing":0,"vconcat":[
   {"width":162,"height":29,"view":{"fill":"#D9D9D9","stroke":null},"data":{"values":[{"l":"total"}]},"mark":{"type":"text","fontSize":20,"color":"#1A1A1A","baseline":"middle"},"encoding":{"text":{"field":"l","type":"nominal"}}},
   {"width":162,"height":192,"data":{"name":"ft"},"mark":{"type":"line","strokeWidth":2},"encoding":{
    "x":{"field":"w","type":"quantitative","title":null,"scale":{"zero":false,"nice":false,"padding":7.4},"axis":{"values":[0,5,10,15,20,25,30],"labelExpr":"datum.value % 10 === 0 ? datum.label : ''","gridWidth":{"condition":{"test":"datum.value % 10 === 0","value":1.2},"value":0.6},"tickSize":{"condition":{"test":"datum.value % 10 === 0","value":3.5},"value":0}}},
    "y":{"field":"t","type":"quantitative","title":null,"scale":{"zero":false,"nice":false,"padding":8.7},"axis":{"values":[0,50,100,150,200,250,300,350,400,450],"labelExpr":"datum.value % 100 === 0 ? datum.label : ''","gridWidth":{"condition":{"test":"datum.value % 100 === 0","value":1.2},"value":0.6},"tickSize":{"condition":{"test":"datum.value % 100 === 0","value":3.5},"value":0}}},
    "color":{"field":"n","type":"nominal","title":"N","scale":{"domain":["1m","120k","12k"],"range":["#F8766D","#00BA38","#619CFF"]}},
    "strokeDash":{"field":"n","type":"nominal","title":"N","scale":{"domain":["1m","120k","12k"],"range":[[1,0],[3,3],[7,4]]}}}}]}
 ]}
]}
],
"spacing":5,
"config":{
 "font":"Liberation Sans",
 "view":{"fill":"#EBEBEB","stroke":null},
 "axis":{"domain":false,"labelColor":"#4D4D4D","labelFontSize":15,"labelFont":"Liberation Sans","tickColor":"#333333","tickWidth":1,"gridColor":"#FFFFFF","labelPadding":2,"labelFlush":false,"labelOverlap":false},
 "legend":{"orient":"none","legendX":150,"legendY":562,"direction":"horizontal","titleOrient":"left","titleAnchor":"middle","titleBaseline":"top","titleFontSize":20,"titleFontWeight":"normal","titleColor":"#000000","labelFontSize":20,"labelColor":"#000000","symbolType":"stroke","symbolSize":4900,"symbolStrokeWidth":2,"labelOffset":18,"columnPadding":16,"titlePadding":17}
}
}
